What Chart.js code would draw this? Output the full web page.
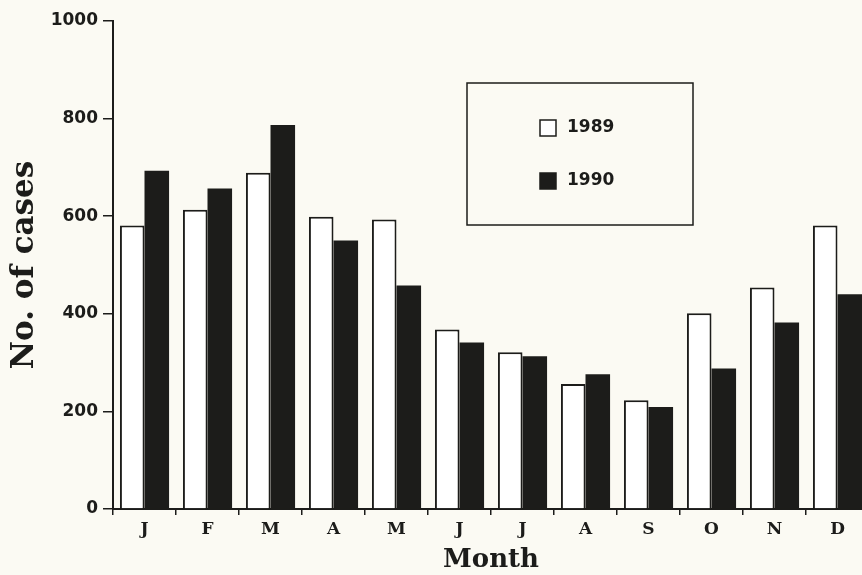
<!DOCTYPE html>
<html>
<head>
<meta charset="utf-8">
<script src="https://cdn.jsdelivr.net/npm/chart.js@4/dist/chart.umd.min.js"></script>
<style>
    html, body { margin: 0; padding: 0; overflow: hidden; background: #fbfaf3; }
    #wrap { width: 870px; height: 585px; position: relative; }
</style>
</head>
<body>
<div id="wrap"><canvas id="chart"></canvas></div>
<script>
// Données
const months = ['J', 'F', 'M', 'A', 'M', 'J', 'J', 'A', 'S', 'O', 'N', 'D'];
const cases1989 = [581, 613, 689, 599, 593, 368, 321, 256, 223, 401, 454, 581];
const cases1990 = [693, 657, 787, 550, 458, 341, 313, 276, 209, 288, 382, 440];
const yTicks = [0, 200, 400, 600, 800, 1000];

const ink = '#1c1c1a';

// Légende encadrée dessinée à la main (boîte au centre haut)
const boxLegend = {
    id: 'boxLegend',
    afterDraw(chart) {
        const ctx = chart.ctx;
        ctx.save();
        ctx.strokeStyle = ink;
        ctx.lineWidth = 1.5;
        ctx.strokeRect(467, 83, 226, 142);
        ctx.font = 'bold 17px "DejaVu Sans"';
        ctx.textBaseline = 'middle';
        chart.data.datasets.forEach((ds, i) => {
            const y = 128 + i * 53;
            ctx.fillStyle = ds.backgroundColor;
            ctx.fillRect(540, y - 8, 16, 16);
            ctx.strokeStyle = ink;
            ctx.lineWidth = 1.5;
            ctx.strokeRect(540, y - 8, 16, 16);
            ctx.fillStyle = ink;
            ctx.fillText(ds.label, 567, y);
        });
        ctx.restore();
    }
};

new Chart(document.getElementById('chart'), {
    type: 'bar',
    data: {
        labels: months,
        datasets: [
            {
                label: '1989',
                data: cases1989,
                backgroundColor: '#ffffff',
                borderColor: ink,
                borderWidth: 2,
                borderSkipped: 'bottom'
            },
            {
                label: '1990',
                data: cases1990,
                backgroundColor: ink,
                borderColor: ink,
                borderWidth: 0
            }
        ]
    },
    options: {
        responsive: true,
        maintainAspectRatio: false,
        animation: false,
        categoryPercentage: 0.78,
        barPercentage: 1.0,
        layout: { padding: { top: 21, right: 1, left: 0, bottom: 0 } },
        plugins: {
            legend: { display: false },
            tooltip: { enabled: false }
        },
        scales: {
            x: {
                offset: true,
                grid: {
                    offset: true,
                    drawOnChartArea: false,
                    drawTicks: true,
                    tickLength: 6,
                    color: ink,
                    lineWidth: 1.5
                },
                border: { color: ink, width: 2 },
                ticks: {
                    color: ink,
                    font: { family: '"DejaVu Serif"', weight: 'bold', size: 17 },
                    padding: 4,
                    maxRotation: 0,
                    autoSkip: false
                },
                title: {
                    display: true,
                    text: 'Month',
                    color: ink,
                    font: { family: '"DejaVu Serif"', weight: 'bold', size: 26 },
                    padding: { top: 0, bottom: 9 }
                },
                afterFit(scale) { scale.height = 76; }
            },
            y: {
                min: 0,
                max: 1000,
                afterBuildTicks(scale) { scale.ticks = yTicks.map(v => ({ value: v })); },
                grid: {
                    drawOnChartArea: false,
                    tickLength: 10,
                    color: ink,
                    lineWidth: 1.5
                },
                border: { color: ink, width: 2 },
                ticks: {
                    color: ink,
                    font: { family: '"DejaVu Sans"', weight: 'bold', size: 17 },
                    padding: 5,
                    callback: v => String(v)
                },
                title: {
                    display: true,
                    text: 'No. of cases',
                    color: ink,
                    font: { family: '"DejaVu Serif"', weight: 'bold', size: 31 },
                    padding: { top: 6, bottom: 0 }
                },
                afterFit(scale) { scale.width = 113; }
            }
        }
    },
    plugins: [boxLegend]
});
</script>
</body>
</html>
